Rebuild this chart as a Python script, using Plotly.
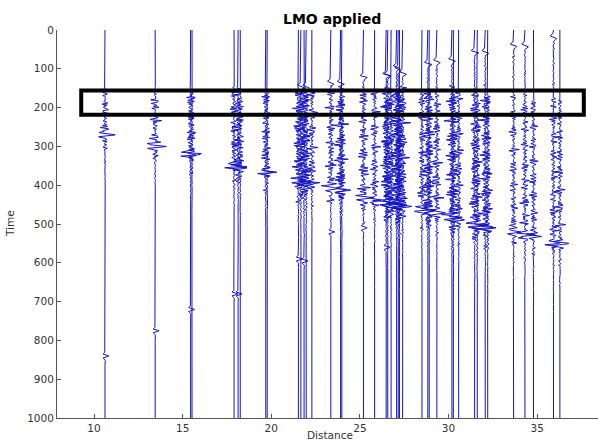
import numpy as np
import plotly.graph_objects as go

# ---- data ----
trace_dist = [10.62, 13.45, 15.45, 15.53, 17.90, 18.13, 18.25, 19.69, 19.77,
              21.53, 21.67, 21.85, 21.97, 22.29, 23.36, 23.91, 23.98, 25.20,
              25.83, 26.48, 26.57, 26.76, 27.07, 27.16, 27.23, 27.41, 28.50,
              28.83, 28.91, 29.34, 30.19, 30.27, 30.57, 31.47, 31.62, 32.07,
              32.21, 33.67, 34.31, 34.79, 35.92, 36.28]
# time where the noisy coda starts
onset_time = [150, 150, 150, 155, 150, 150, 160, 150, 155,
              150, 150, 150, 150, 155, 150, 150, 155, 150,
              155, 150, 150, 155, 150, 150, 155, 150, 155,
              150, 155, 150, 150, 155, 155, 160, 165, 160,
              165, 170, 170, 175, 175, 180]
# strong (aligned) arrival
event_time = [270, 300, 320, 322, 350, 352, 355, 365, 367,
              388, 390, 392, 393, 395, 408, 412, 413, 432,
              438, 445, 447, 448, 450, 452, 453, 455, 462,
              465, 466, 470, 483, 485, 488, 502, 504, 507,
              509, 520, 528, 532, 548, 550]
event_amp = [0.55, 0.60, 0.60, 0.30, 0.50, 0.50, 0.35, 0.50, 0.30,
             0.45, 0.40, 0.45, 0.40, 0.35, 0.45, 0.45, 0.30, 0.50,
             0.40, 0.50, 0.45, 0.40, 0.50, 0.45, 0.40, 0.45, 0.40,
             0.50, 0.35, 0.45, 0.50, 0.40, 0.40, 0.50, 0.40, 0.50,
             0.40, 0.40, 0.45, 0.40, 0.45, 0.40]
noise_amp = [0.20, 0.22, 0.24, 0.12, 0.22, 0.22, 0.16, 0.22, 0.12,
             0.26, 0.24, 0.26, 0.22, 0.20, 0.24, 0.26, 0.18, 0.24,
             0.20, 0.26, 0.24, 0.22, 0.26, 0.24, 0.22, 0.24, 0.20,
             0.26, 0.20, 0.22, 0.26, 0.22, 0.20, 0.24, 0.20, 0.24,
             0.20, 0.18, 0.20, 0.18, 0.18, 0.18]
# early kink near the top (0 = none)
early_time = [0, 0, 0, 0, 0, 0, 0, 0, 0,
              0, 145, 0, 145, 0, 135, 135, 0, 120,
              0, 115, 115, 0, 95, 100, 0, 110, 0,
              86, 0, 80, 77, 0, 0, 56, 0, 56,
              0, 39, 39, 0, 18, 0]
# late weak arrival (0 = none)
late_time = [840, 775, 720, 0, 680, 680, 0, 0, 0,
             590, 0, 595, 0, 0, 520, 0, 0, 510,
             0, 560, 0, 0, 0, 0, 0, 0, 0,
             0, 0, 0, 0, 0, 0, 0, 0, 0,
             0, 0, 0, 0, 0, 0]

time_ticks = list(range(0, 1001, 100))
dist_ticks = [10, 15, 20, 25, 30, 35]
box_dist = [9.28, 37.63]
box_time = [156, 218.6]

# ---- build the wiggles ----
t = np.arange(0, 1001, 0.5)
periods = np.array([4.3, 5.6, 6.9, 8.3, 10.1, 12.7])

xs, ys = [], []
for i, d in enumerate(trace_dist):
    ph = np.mod(np.arange(1, 7) * (i + 1) * 2.399963 + i * 0.7, 2 * np.pi)
    n = np.zeros_like(t)
    for P, p in zip(periods, ph):
        n += np.sin(2 * np.pi * t / P + p)
    n = n / 2.4 * (0.65 + 0.35 * np.sin(2 * np.pi * t / 47.0 + i * 1.3))
    on, ev = onset_time[i], event_time[i]
    ramp = np.clip((t - on + 8) / 16.0, 0, 1)
    env = ramp * np.where(t > ev, np.exp(-(t - ev) / 45.0), 1.0)
    env = env * (0.8 + 0.2 * np.clip((t - on) / (ev - on), 0, 1))
    s = noise_amp[i] * n * env
    # main arrival
    s += event_amp[i] * np.cos(2 * np.pi * (t - ev) / 12.0) * np.exp(-((t - ev) / 9.0) ** 2)
    # early kink
    te = early_time[i]
    if te > 0:
        s += 0.45 * ((t - te) / 5.0) * np.exp(-((t - te) / 5.0) ** 2)
        pre = (t > te) & (t < on)
        s += np.where(pre, 0.05 * n, 0.0)
    tl = late_time[i]
    if tl > 0:
        s += 0.22 * np.cos(2 * np.pi * (t - tl) / 12.0) * np.exp(-((t - tl) / 7.0) ** 2)
    xs.extend((d + s).tolist())
    ys.extend(t.tolist())
    xs.append(None)
    ys.append(None)

fig = go.Figure()
fig.add_trace(go.Scatter(x=xs, y=ys, mode="lines",
                         line=dict(color="#1414c0", width=1),
                         hoverinfo="skip", showlegend=False))

fig.add_shape(type="rect", xref="x", yref="y",
              x0=box_dist[0], x1=box_dist[1], y0=box_time[0], y1=box_time[1],
              line=dict(color="black", width=4), fillcolor="rgba(0,0,0,0)")

axis_common = dict(showgrid=False, zeroline=False, showline=True,
                   linecolor="#555555", linewidth=1, ticks="inside",
                   ticklen=4, tickcolor="#555555",
                   tickfont=dict(family="DejaVu Sans", size=10.5, color="#333333"))

fig.update_layout(
    width=598, height=444,
    margin=dict(l=57, r=0, t=30, b=26),
    paper_bgcolor="white", plot_bgcolor="white",
    xaxis=dict(range=[7.913, 38.43], tickvals=dist_ticks, **axis_common),
    yaxis=dict(range=[1000, 0], tickvals=time_ticks, **axis_common),
    annotations=[
        dict(text="<b>LMO applied</b>", xref="paper", yref="paper",
             x=(332 - 57) / 541, y=(418 - 19) / 388, showarrow=False,
             xanchor="center", yanchor="middle",
             font=dict(family="DejaVu Sans", size=14, color="black")),
        dict(text="Distance", xref="paper", yref="paper",
             x=(330 - 57) / 541, y=(418 - 443) / 388, showarrow=False,
             xanchor="center", yanchor="bottom",
             font=dict(family="DejaVu Sans", size=10.5, color="#333333")),
        dict(text="Time", xref="paper", yref="paper",
             x=(10 - 57) / 541, y=(418 - 224) / 388, showarrow=False,
             xanchor="center", yanchor="middle", textangle=-90,
             font=dict(family="DejaVu Sans", size=10.5, color="#333333")),
    ],
)

fig.write_html("out.html",
               config={"displayModeBar": False},
               post_script="document.body.style.margin='0';document.body.style.overflow='hidden';")
